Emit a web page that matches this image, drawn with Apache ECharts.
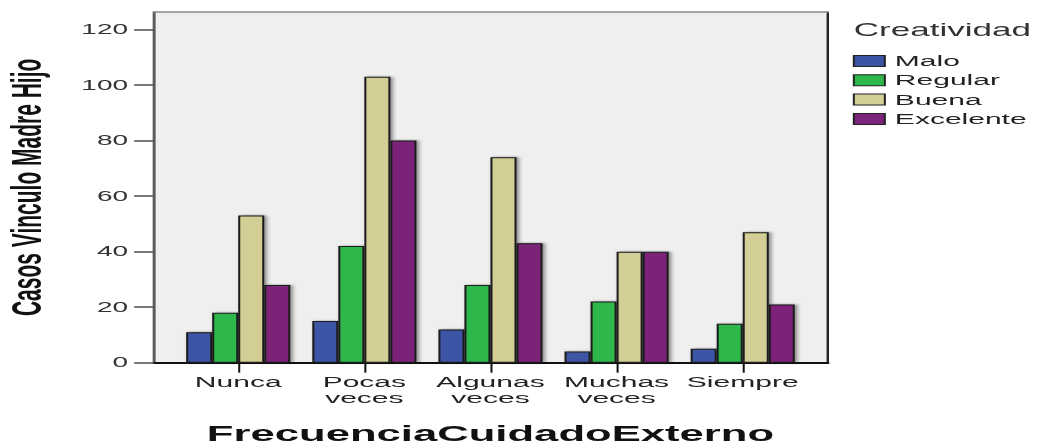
<!DOCTYPE html>
<html><head><meta charset="utf-8">
<script src="https://cdn.jsdelivr.net/npm/echarts@6/dist/echarts.min.js"></script>
<style>
html,body{margin:0;padding:0;background:#fff;overflow:hidden}
#wrap{width:1037px;height:445px;overflow:hidden;position:relative}
#chart{width:518px;height:445px;transform:scaleX(2.00193);transform-origin:0 0}
</style></head>
<body><div id="wrap"><div id="chart"></div></div>
<script>
// ---- data ----
const categories = ['Nunca', 'Pocas\nveces', 'Algunas\nveces', 'Muchas\nveces', 'Siempre'];
const seriesNames = ['Malo', 'Regular', 'Buena', 'Excelente'];
const malo = [11, 15, 12, 4, 5];
const regular = [18, 42, 28, 22, 14];
const buena = [53, 103, 74, 40, 47];
const excelente = [28, 80, 43, 40, 21];
const yTickMin = 0, yTickMax = 120, yTickStep = 20;
const legendTitle = 'Creatividad';
const xTitle = 'FrecuenciaCuidadoExterno';
const yTitle = 'Casos Vinculo Madre Hijo';

const colors = ['#3d55a5', '#2db84b', '#d2ce95', '#7b2479'];
const values = [malo, regular, buena, excelente];
const FONT = 'Liberation Sans, Arial, sans-serif';

const chart = echarts.init(document.getElementById('chart'), null, {renderer: 'svg'});
const hidden = {show: false};
chart.setOption({
  animation: false,
  backgroundColor: '#ffffff',
  title: {
    text: legendTitle, left: 426.5, top: 21, padding: 0,
    textStyle: {fontFamily: FONT, fontSize: 17.5, fontWeight: 'normal', color: '#333'}
  },
  legend: {
    orient: 'vertical', left: 426, top: 53.5, padding: 0,
    itemWidth: 15.5, itemHeight: 11, itemGap: 4.3,
    data: seriesNames,
    icon: 'rect',
    itemStyle: {borderColor: '#222', borderWidth: 1, shadowBlur: 0, shadowColor: 'transparent', shadowOffsetX: 0},
    textStyle: {fontFamily: FONT, fontSize: 15, lineHeight: 15, color: '#222', padding: 0}
  },
  grid: [
    {left: 77, right: 104.5, top: 12, bottom: 82.3, show: true, backgroundColor: '#efefef', borderWidth: 0,
     outerBoundsMode: 'none', containLabel: false},
    {left: 87.5, right: 115.5, top: 29.5, bottom: 82.3, outerBoundsMode: 'none', containLabel: false}
  ],
  xAxis: [
    {
      type: 'category', gridIndex: 1, data: categories,
      axisLine: {show: false},
      axisTick: {show: true, alignWithLabel: true, length: 10, lineStyle: {color: '#111', width: 1}},
      axisLabel: {fontFamily: FONT, fontSize: 15, lineHeight: 16, color: '#222', margin: 11, interval: 0},
      splitLine: hidden,
      name: xTitle, nameLocation: 'middle', nameGap: 60,
      nameTextStyle: {fontFamily: FONT, fontSize: 21.8, fontWeight: 'bold', color: '#111'}
    },
    {
      type: 'value', gridIndex: 0, min: 0, max: 1, position: 'bottom',
      axisLine: {show: true, onZero: false, lineStyle: {color: '#111', width: 1.8}},
      axisTick: hidden, axisLabel: hidden, splitLine: hidden
    },
    {
      type: 'value', gridIndex: 0, min: 0, max: 1, position: 'top',
      axisLine: {show: true, onZero: false, lineStyle: {color: '#8a8a8a', width: 1.5}},
      axisTick: hidden, axisLabel: hidden, splitLine: hidden
    }
  ],
  yAxis: [
    {
      type: 'value', gridIndex: 1, min: yTickMin, max: yTickMax, interval: yTickStep,
      offset: 10.5,
      axisLine: {show: false},
      axisTick: {show: true, length: 10, lineStyle: {color: '#555', width: 1.6}},
      axisLabel: {fontFamily: FONT, fontSize: 14, color: '#333', margin: 13},
      splitLine: hidden
    },
    {
      type: 'value', gridIndex: 0, min: 0, max: 1, position: 'left',
      axisLine: {show: true, onZero: false, lineStyle: {color: '#5c5c5c', width: 1.5}},
      axisTick: hidden, axisLabel: hidden, splitLine: hidden,
      name: yTitle, nameLocation: 'middle', nameGap: 53.5,
      nameTextStyle: {fontFamily: FONT, fontSize: 21, fontWeight: 'bold', color: '#111'}
    },
    {
      type: 'value', gridIndex: 0, min: 0, max: 1, position: 'right',
      axisLine: {show: true, onZero: false, lineStyle: {color: '#222', width: 1.2}},
      axisTick: hidden, axisLabel: hidden, splitLine: hidden
    }
  ],
  series: seriesNames.map((name, i) => ({
    name, type: 'bar', xAxisIndex: 0, yAxisIndex: 0,
    data: values[i],
    barWidth: 13, barGap: '0%',
    itemStyle: {
      color: colors[i], borderColor: '#1a1a1a', borderWidth: 1,
      shadowColor: 'rgba(0,0,0,0.45)', shadowBlur: 2, shadowOffsetX: 1.2, shadowOffsetY: 0
    }
  }))
});
</script>
</body></html>
